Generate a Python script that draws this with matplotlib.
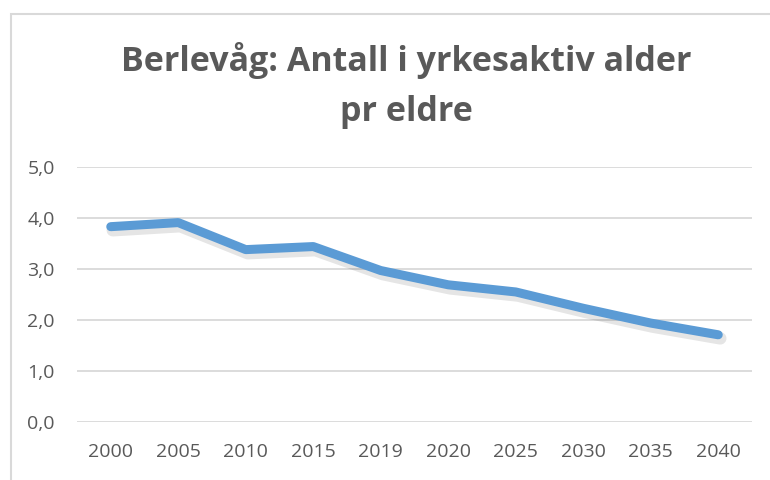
import matplotlib
matplotlib.use("Agg")
import matplotlib.pyplot as plt
from matplotlib.patches import Rectangle

years = ["2000", "2005", "2010", "2015", "2019", "2020", "2025", "2030", "2035", "2040"]
values = [3.83, 3.91, 3.38, 3.44, 2.97, 2.69, 2.55, 2.23, 1.94, 1.71]
y_ticks = [0, 1, 2, 3, 4, 5]
y_labels = ["0,0", "1,0", "2,0", "3,0", "4,0", "5,0"]
title_lines = ["Berlevåg: Antall i yrkesaktiv alder", "pr eldre"]

plt.rcParams['font.family'] = ['Open Sans', 'DejaVu Sans']
W, H = 770, 480
fig = plt.figure(figsize=(W / 100, H / 100), dpi=100)

fig.patches.append(Rectangle((11 / W, -0.1), 1.1, 1 - 14 / H + 0.1, transform=fig.transFigure,
                             fill=False, edgecolor="#D9D9D9", linewidth=1.5))

ax = fig.add_axes([77 / W, 1 - 422 / H, (752 - 77) / W, (422 - 167) / H])
x = list(range(len(years)))
# soft shadow
ax.plot([i + 0.03 for i in x], [v - 0.07 for v in values], color="#000000", alpha=0.10,
        linewidth=9, solid_capstyle="round", solid_joinstyle="round", zorder=2)
ax.plot(x, values, color="#5B9BD5", linewidth=6.5, solid_capstyle="round",
        solid_joinstyle="round", zorder=3)

ax.set_xlim(-0.5, len(years) - 0.5)
ax.set_ylim(0, 5)
ax.set_xticks(x)
ax.set_xticklabels(years)
ax.set_yticks(y_ticks)
ax.set_yticklabels(y_labels)
ax.tick_params(length=0, colors="#595959", labelsize=14)
ax.tick_params(axis="y", pad=16)
ax.tick_params(axis="x", pad=15)
for s in ax.spines.values():
    s.set_visible(False)
ax.grid(axis="y", color="#D9D9D9", linewidth=1.3)
ax.set_axisbelow(True)

baselines = [71, 121]
for line, yb in zip(title_lines, baselines):
    fig.text(406 / W, 1 - yb / H, line, ha="center", va="baseline", fontsize=24.5,
             fontweight="bold", color="#595959")

fig.savefig("out.png", dpi=100)
